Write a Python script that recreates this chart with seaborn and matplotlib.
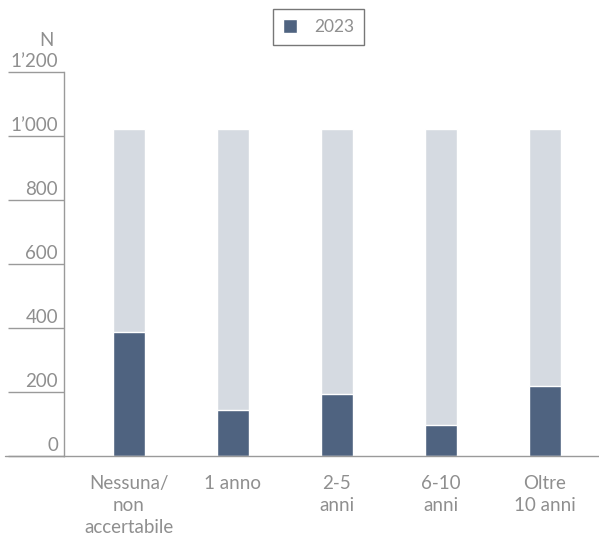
import matplotlib
matplotlib.use("Agg")
import matplotlib.pyplot as plt
import seaborn as sns
import pandas as pd

sns.set_theme(style="white")
plt.rcParams["font.family"] = ["Lato", "DejaVu Sans"]

categories = ["Nessuna/\nnon\naccertabile", "1 anno", "2-5\nanni", "6-10\nanni", "Oltre\n10 anni"]
totals = [1022, 1022, 1022, 1022, 1022]
values_2023 = [388, 144, 194, 97, 219]
yticks = [0, 200, 400, 600, 800, 1000, 1200]
ytick_labels = ["0", "200", "400", "600", "800", "1\u2019000", "1\u2019200"]

df = pd.DataFrame({"cat": categories, "total": totals, "v2023": values_2023})

DARK = "#4f6380"
LIGHT = "#d5dae1"
TEXT = "#8f8f8f"
LINE = "#9a9a9a"
FS = 13.5

fig = plt.figure(figsize=(5.99, 5.40), dpi=100)
ax = fig.add_axes([64 / 599, 1 - 456 / 540, 535 / 599, (456 - 72) / 540])

sns.barplot(data=df, x="cat", y="total", color=LIGHT, width=0.3,
            saturation=1, ax=ax)
sns.barplot(data=df, x="cat", y="v2023", color=DARK, width=0.3,
            saturation=1, ax=ax, label="2023")

ax.set_ylim(0, 1200)
ax.set_xlim(-0.625, 4.52)
ax.set_xlabel("")
ax.set_ylabel("")

for s in ["top", "right"]:
    ax.spines[s].set_visible(False)
ax.spines["left"].set_color(LINE)
ax.spines["bottom"].set_color(LINE)
ax.spines["left"].set_linewidth(1)
ax.spines["bottom"].set_linewidth(1)

# y ticks: long lines to the left, labels sitting above them
ax.set_yticks(yticks)
ax.set_yticklabels([])
ax.tick_params(axis="y", length=40, width=1, color=LINE, direction="out", left=True)
ytrans = ax.get_yaxis_transform()
for v, lab in zip(yticks, ytick_labels):
    ax.text(-6 / 535, v + 7, lab, transform=ytrans, ha="right", va="bottom",
            fontsize=FS, color=TEXT)
ax.text(-10 / 535, 1200 + 72, "N", transform=ytrans, ha="right", va="bottom",
        fontsize=FS, color=TEXT, clip_on=False)

# baseline extends past the axis on the left
ax.plot([-59 / 535, 0], [0, 0], transform=ytrans, color=LINE, lw=1, clip_on=False)

ax.tick_params(axis="x", length=0, pad=14, labelsize=FS, labelcolor=TEXT)
for t in ax.get_xticklabels():
    t.set_linespacing(1.35)

leg = ax.legend(loc="center", bbox_to_anchor=(318.5 / 599, 1 - 27 / 540),
                bbox_transform=fig.transFigure, frameon=True, fancybox=False,
                handlelength=0.8, handleheight=0.8, fontsize=12.5,
                borderpad=0.55, handletextpad=1.0, borderaxespad=0)
leg.get_frame().set_edgecolor("#555555")
leg.get_frame().set_linewidth(1)
for t in leg.get_texts():
    t.set_color(TEXT)

fig.savefig("out.png", dpi=100)
